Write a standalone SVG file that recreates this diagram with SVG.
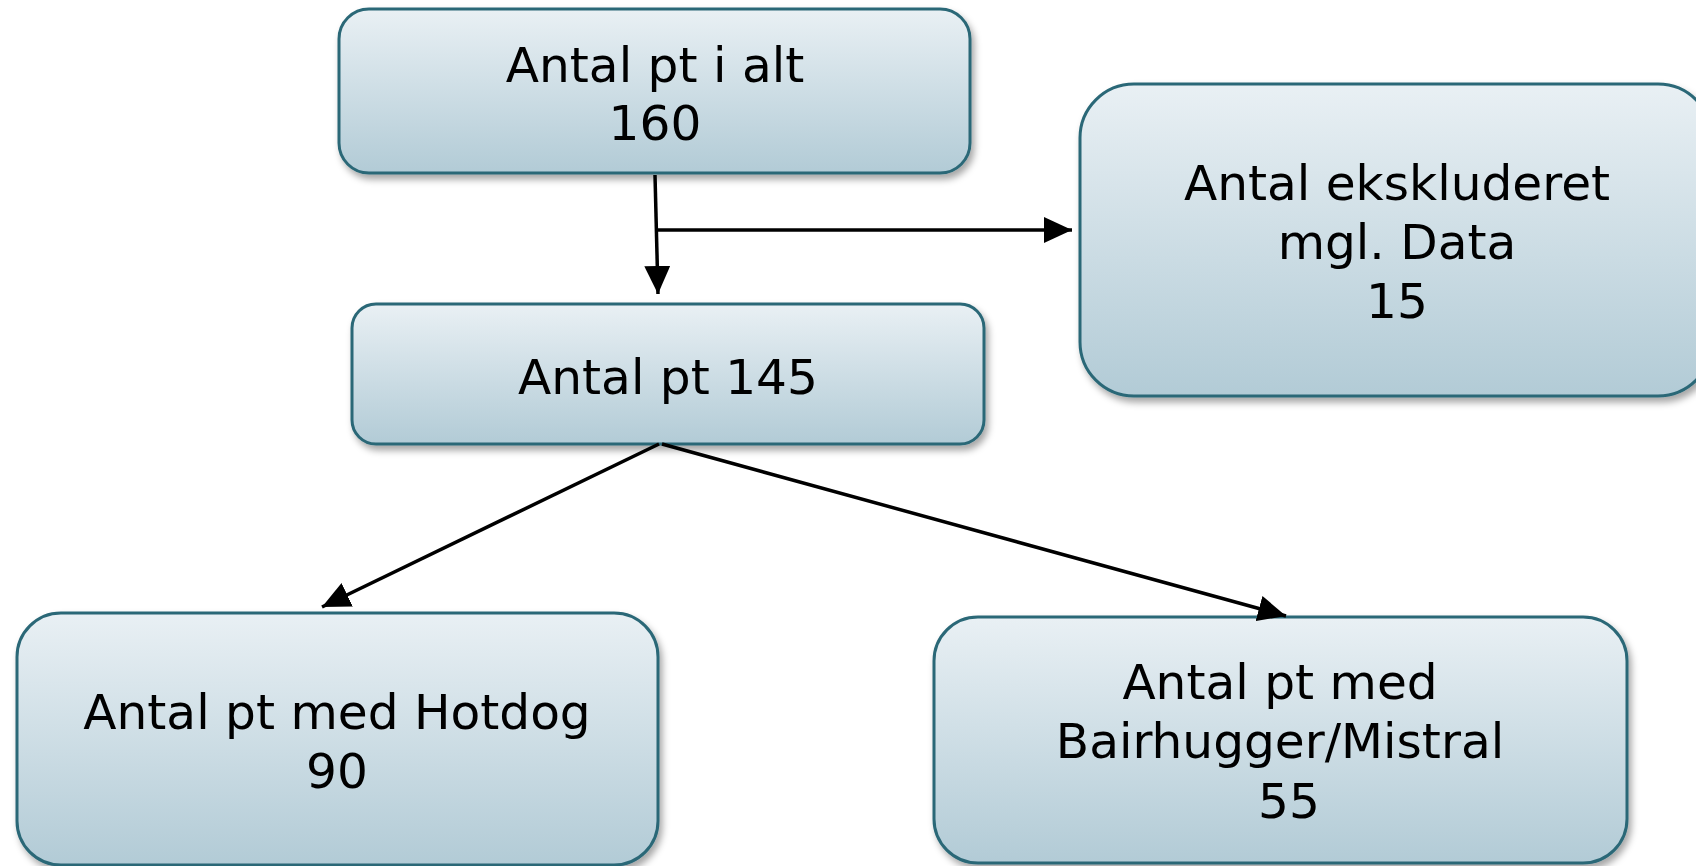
<svg xmlns="http://www.w3.org/2000/svg" width="1696" height="866" viewBox="0 0 1696 866">
<style>
.box{fill:url(#g);stroke:#2b6777;stroke-width:3;filter:url(#sh)}
.t{font-family:"DejaVu Sans","Verdana",sans-serif;font-size:48.6px;fill:#000;text-anchor:middle}
.c{stroke:#000;stroke-width:3.5;fill:none;marker-end:url(#ah)}
</style>
<defs>
<linearGradient id="g" x1="0" y1="0" x2="0" y2="1">
<stop offset="0" stop-color="#e9f0f4"/>
<stop offset="1" stop-color="#b2cbd6"/>
</linearGradient>
<filter id="sh" x="-10%" y="-10%" width="125%" height="130%">
<feDropShadow dx="3" dy="5" stdDeviation="3.5" flood-color="#000" flood-opacity="0.35"/>
</filter>
<marker id="ah" markerUnits="userSpaceOnUse" markerWidth="30" markerHeight="26" refX="28" refY="13" orient="auto">
<path d="M0,0 L28,13 L0,26 Z" fill="#000"/>
</marker>
</defs>
<g id="n1"><rect class="box" x="339" y="9" width="631" height="164" rx="30"/>
<text class="t" x="655" y="82">Antal pt i alt</text><text class="t" x="655" y="140">160</text></g>
<g id="n2"><rect class="box" x="1080" y="84" width="632" height="312" rx="54"/>
<text class="t" x="1397" y="200">Antal ekskluderet</text><text class="t" x="1397" y="259">mgl. Data</text><text class="t" x="1397" y="318">15</text></g>
<g id="n3"><rect class="box" x="352" y="304" width="632" height="140" rx="24"/>
<text class="t" x="668" y="394">Antal pt 145</text></g>
<g id="n4"><rect class="box" x="17" y="613" width="641" height="252" rx="44"/>
<text class="t" x="337" y="729">Antal pt med Hotdog</text><text class="t" x="337" y="788">90</text></g>
<g id="n5"><rect class="box" x="934" y="617" width="693" height="246" rx="44"/>
<text class="t" x="1280" y="699">Antal pt med</text><text class="t" x="1280" y="758">Bairhugger/Mistral</text><text class="t" x="1289" y="818">55</text></g>
<g id="connectors">
<path class="c" d="M655,175 L658,294"/>
<path class="c" d="M657,230 L1072,230"/>
<path class="c" d="M659,444 L322,607"/>
<path class="c" d="M662,444 L1286,616"/>
</g>
</svg>
